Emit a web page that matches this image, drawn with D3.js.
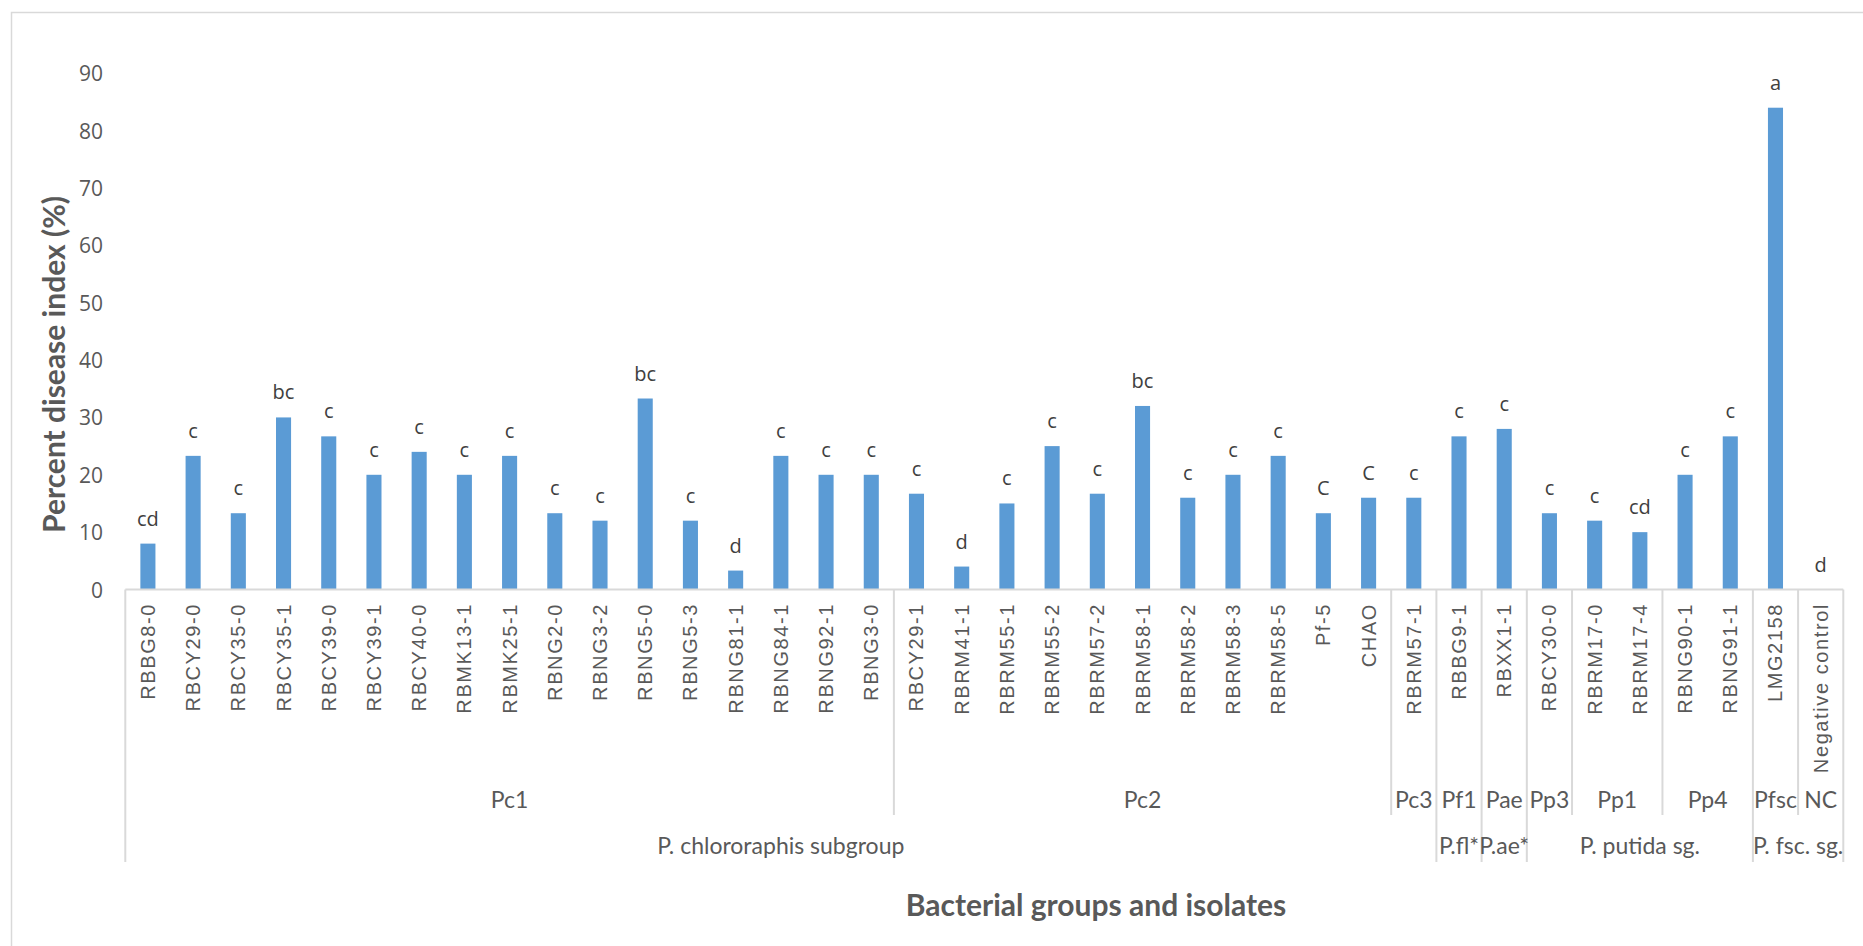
<!DOCTYPE html>
<html>
<head>
<meta charset="utf-8">
<script src="https://cdn.jsdelivr.net/npm/d3@7"></script>
<style>
  html, body { margin: 0; padding: 0; background: #fff; }
  svg { display: block; }
</style>
</head>
<body>
<svg id="chart" width="1863" height="946"></svg>
<script>
// Isolates in axis order, with their percent disease index and significance letters
const isolates = [
  "RBBG8-0", "RBCY29-0", "RBCY35-0", "RBCY35-1", "RBCY39-0", "RBCY39-1", "RBCY40-0",
  "RBMK13-1", "RBMK25-1", "RBNG2-0", "RBNG3-2", "RBNG5-0", "RBNG5-3", "RBNG81-1",
  "RBNG84-1", "RBNG92-1", "RBNG3-0",
  "RBCY29-1", "RBRM41-1", "RBRM55-1", "RBRM55-2", "RBRM57-2", "RBRM58-1", "RBRM58-2",
  "RBRM58-3", "RBRM58-5", "Pf-5", "CHAO",
  "RBRM57-1", "RBBG9-1", "RBXX1-1", "RBCY30-0", "RBRM17-0", "RBRM17-4",
  "RBNG90-1", "RBNG91-1", "LMG2158", "Negative control"
];
const diseaseIndex = [
  8, 23.3, 13.3, 30, 26.7, 20, 24, 20, 23.3, 13.3, 12, 33.3, 12, 3.3, 23.3, 20, 20,
  16.7, 4, 15, 25, 16.7, 32, 16, 20, 23.3, 13.3, 16,
  16, 26.7, 28, 13.3, 12, 10, 20, 26.7, 84, 0
];
const letters = [
  "cd", "c", "c", "bc", "c", "c", "c", "c", "c", "c", "c", "bc", "c", "d", "c", "c", "c",
  "c", "d", "c", "c", "c", "bc", "c", "c", "c", "C", "C",
  "c", "c", "c", "c", "c", "cd", "c", "c", "a", "d"
];

// Grouping rows of the category axis
const groupNames = ["Pc1", "Pc2", "Pc3", "Pf1", "Pae", "Pp3", "Pp1", "Pp4", "Pfsc", "NC"];
const groupSizes = [17, 11, 1, 1, 1, 1, 2, 2, 1, 1];
const clusterNames = ["P. chlororaphis subgroup", "P.fl*", "P.ae*", "P. putida sg.", "P. fsc. sg."];
const clusterSizes = [29, 1, 1, 5, 2];

const yTicks = [0, 10, 20, 30, 40, 50, 60, 70, 80, 90];

const svg = d3.select("#chart");

const plotLeft = 125.3, plotRight = 1843.3, plotBase = 589.5, plotTop = 73.3;
const rowOneBottom = 815, rowTwoBottom = 862;
const gridColor = "#d9d9d9";

// Chart frame
svg.append("rect")
  .attr("x", 11.5).attr("y", 12.5)
  .attr("width", 1900).attr("height", 1000)
  .attr("fill", "none").attr("stroke", gridColor).attr("stroke-width", 1.5);

const x = d3.scaleBand()
  .domain(isolates)
  .range([plotLeft, plotRight])
  .paddingInner(2 / 3)
  .paddingOuter(1 / 3);
const step = x.step();
const boundary = i => plotLeft + i * step;

const y = d3.scaleLinear().domain([0, 90]).range([plotBase, plotTop]);

// Value axis labels
const yAxis = d3.axisLeft(y).tickValues(yTicks).tickSize(0).tickPadding(0);
const yg = svg.append("g").attr("transform", "translate(103,0)").call(yAxis);
yg.select(".domain").remove();
yg.selectAll("text")
  .attr("font-family", "'Open Sans', sans-serif")
  .attr("font-size", 21)
  .attr("fill", "#595959")
  .attr("dy", "0.36em");

// Bars
svg.append("g").selectAll("rect")
  .data(isolates)
  .join("rect")
  .attr("x", d => x(d))
  .attr("width", x.bandwidth())
  .attr("y", (d, i) => y(diseaseIndex[i]))
  .attr("height", (d, i) => plotBase - y(diseaseIndex[i]))
  .attr("fill", "#5b9bd5");

// Significance letters above bars
svg.append("g").selectAll("text")
  .data(isolates)
  .join("text")
  .attr("x", d => x(d) + x.bandwidth() / 2)
  .attr("y", (d, i) => y(diseaseIndex[i]) - 18)
  .attr("text-anchor", "middle")
  .attr("font-family", "'Open Sans', sans-serif")
  .attr("font-size", 20)
  .attr("fill", "#404040")
  .text((d, i) => letters[i]);

// Category axis line
svg.append("line")
  .attr("x1", plotLeft).attr("x2", plotRight)
  .attr("y1", plotBase).attr("y2", plotBase)
  .attr("stroke", gridColor).attr("stroke-width", 2);

// Isolate names, rotated
svg.append("g").selectAll("text")
  .data(isolates)
  .join("text")
  .attr("transform", d => `translate(${x(d) + x.bandwidth() / 2 + 7},603) rotate(-90)`)
  .attr("text-anchor", "end")
  .attr("font-family", "'Liberation Sans', Arial, sans-serif")
  .attr("font-size", 20)
  .attr("letter-spacing", 1.6)
  .attr("fill", "#595959")
  .text(d => d);

// Group boundaries and labels
const cumulative = sizes => sizes.reduce((acc, s) => (acc.push(acc[acc.length - 1] + s), acc), [0]);
const groupEdges = cumulative(groupSizes);
const clusterEdges = cumulative(clusterSizes);

svg.append("g").selectAll("line")
  .data(groupEdges)
  .join("line")
  .attr("x1", i => boundary(i)).attr("x2", i => boundary(i))
  .attr("y1", plotBase).attr("y2", i => clusterEdges.includes(i) ? rowTwoBottom : rowOneBottom)
  .attr("stroke", gridColor).attr("stroke-width", 2);

svg.append("g").selectAll("text")
  .data(groupNames)
  .join("text")
  .attr("x", (d, k) => (boundary(groupEdges[k]) + boundary(groupEdges[k + 1])) / 2)
  .attr("y", 808)
  .attr("text-anchor", "middle")
  .attr("font-family", "Lato, sans-serif")
  .attr("font-size", 23)
  .attr("fill", "#595959")
  .text(d => d);

svg.append("g").selectAll("text")
  .data(clusterNames)
  .join("text")
  .attr("x", (d, k) => (boundary(clusterEdges[k]) + boundary(clusterEdges[k + 1])) / 2)
  .attr("y", 854)
  .attr("text-anchor", "middle")
  .attr("font-family", "Lato, sans-serif")
  .attr("font-size", 23)
  .attr("fill", "#595959")
  .text(d => d);

// Axis titles
svg.append("text")
  .attr("transform", "translate(65,364.5) rotate(-90)")
  .attr("text-anchor", "middle")
  .attr("font-family", "Lato, sans-serif")
  .attr("font-weight", "bold")
  .attr("font-size", 30)
  .attr("fill", "#595959")
  .text("Percent disease index (%)");

svg.append("text")
  .attr("x", 1096).attr("y", 916)
  .attr("text-anchor", "middle")
  .attr("font-family", "Lato, sans-serif")
  .attr("font-weight", "bold")
  .attr("font-size", 30)
  .attr("fill", "#595959")
  .text("Bacterial groups and isolates");
</script>
</body>
</html>
